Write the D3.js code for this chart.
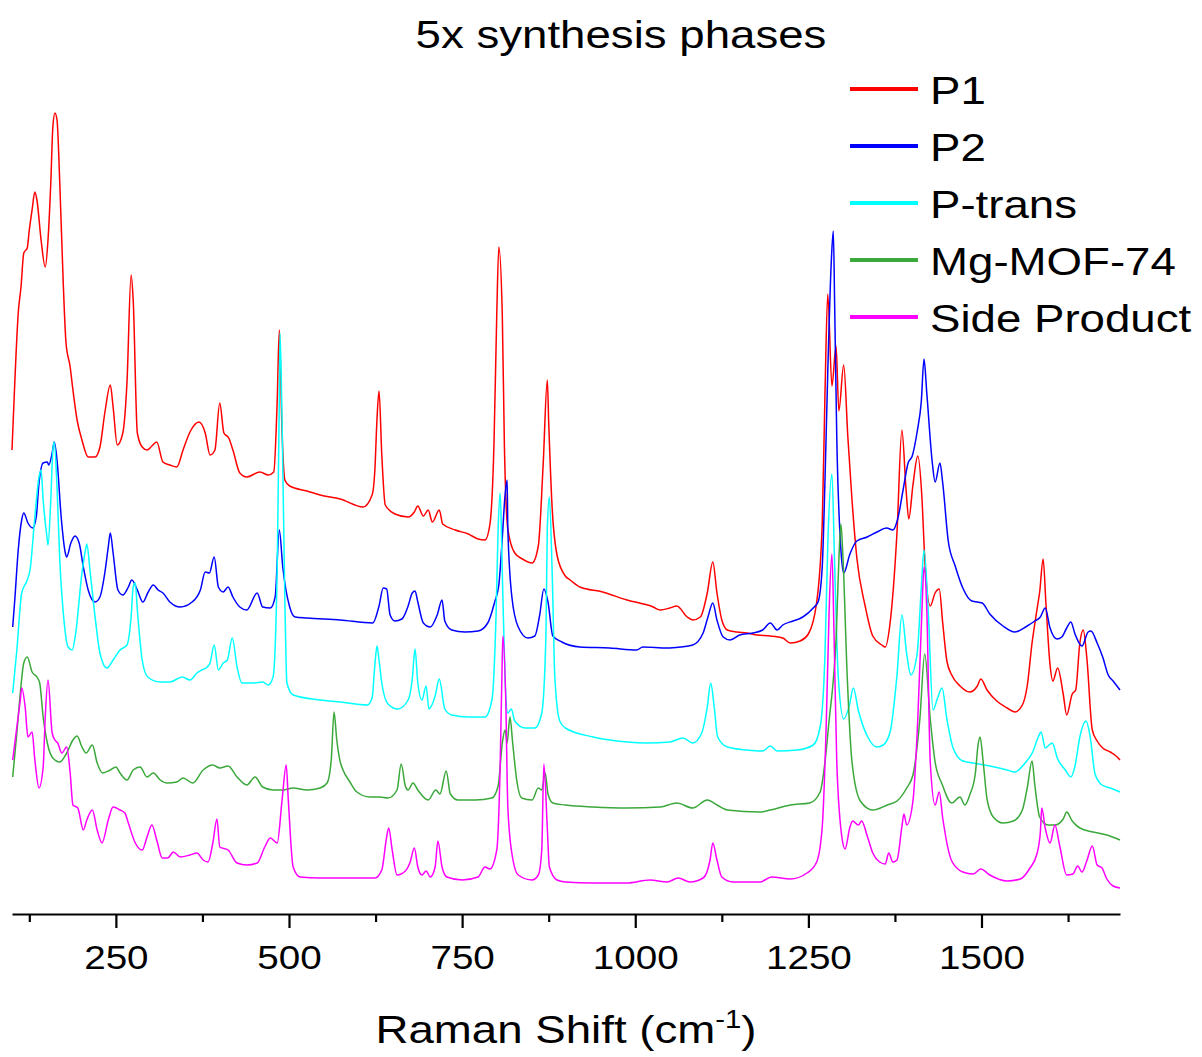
<!DOCTYPE html>
<html>
<head>
<meta charset="utf-8">
<script src="https://cdn.jsdelivr.net/npm/d3@7"></script>
<style>
  html, body { margin: 0; padding: 0; background: #fff; }
  svg { display: block; font-family: "Liberation Sans", Arial, sans-serif; }
</style>
</head>
<body>
<svg id="chart" width="1202" height="1057"></svg>
<script>
// Raman spectra, [wavenumber (cm-1), intensity (a.u., stacked offsets included)]
const p1 = [[100,470],[104,537],[109,607],[113,633],[117,667],[122,672],[125,690],[129,710],[133,728],[136,720],[142,680],[148,653],[152,680],[156,737],[159,793],[162,807],[165,800],[169,737],[174,637],[178,577],[184,553],[188,530],[194,500],[201,480],[210,463],[220,463],[227,473],[234,507],[242,535],[246,513],[252,475],[260,487],[266,537],[272,645],[275,620],[281,487],[288,473],[295,470],[302,474],[309,478],[318,458],[328,455],[338,453],[347,470],[357,488],[370,498],[379,487],[386,465],[393,470],[400,517],[406,487],[413,482],[419,470],[429,447],[439,443],[458,448],[470,445],[478,448],[483,520],[486,590],[490,487],[494,440],[501,434],[526,429],[545,425],[574,421],[607,413],[620,425],[624,450],[627,500],[630,529],[634,465],[639,415],[653,406],[672,403],[681,408],[686,414],[694,404],[701,410],[707,398],[717,410],[722,396],[740,390],[759,386],[773,381],[783,380],[790,395],[796,476],[800,605],[803,673],[808,605],[811,476],[816,391],[826,367],[837,361],[851,357],[860,374],[867,455],[873,540],[875,498],[880,412],[887,365],[899,344],[906,340],[920,333],[953,328],[988,320],[1026,313],[1036,310],[1050,312],[1060,314],[1075,303],[1083,300],[1094,303],[1104,327],[1112,358],[1118,327],[1125,300],[1133,290],[1147,288],[1161,287],[1176,285],[1195,284],[1213,282],[1224,277],[1238,279],[1250,286],[1262,318],[1270,396],[1274,527],[1278,626],[1284,534],[1290,574],[1294,509],[1301,555],[1307,483],[1313,420],[1320,362],[1332,314],[1343,284],[1356,275],[1361,273],[1368,297],[1378,388],[1385,490],[1391,431],[1395,401],[1401,435],[1408,464],[1414,422],[1418,362],[1426,314],[1433,327],[1439,331],[1444,297],[1450,259],[1457,245],[1469,234],[1483,228],[1494,234],[1499,241],[1508,230],[1522,219],[1537,212],[1548,208],[1559,215],[1566,234],[1573,277],[1580,310],[1584,328],[1589,361],[1593,317],[1599,255],[1603,239],[1610,252],[1618,226],[1623,205],[1631,226],[1636,230],[1642,277],[1647,290],[1652,263],[1660,190],[1667,179],[1675,172],[1686,168],[1696,163],[1700,160]];

const p2 = [[101,293],[104,320],[109,370],[114,400],[117,407],[123,397],[130,392],[135,403],[139,437],[145,457],[151,458],[153,455],[158,467],[161,478],[165,460],[171,403],[177,367],[179,363],[185,377],[191,384],[197,377],[203,353],[210,330],[220,318],[227,323],[234,347],[239,373],[242,387],[246,367],[253,330],[260,325],[268,333],[273,340],[281,330],[289,318],[296,327],[304,335],[311,330],[318,327],[328,318],[343,313],[360,318],[372,330],[379,348],[385,347],[392,363],[398,333],[405,328],[412,333],[419,323],[429,313],[439,310],[454,327],[462,313],[473,312],[480,323],[486,390],[491,353],[501,313],[509,303],[526,302],[574,300],[621,297],[630,314],[636,332],[641,331],[646,305],[653,299],[663,301],[672,314],[678,327],[682,329],[686,318],[694,297],[704,293],[714,305],[721,320],[725,299],[735,290],[754,288],[773,289],[787,297],[797,318],[803,335],[808,382],[812,425],[815,440],[816,391],[822,322],[831,293],[845,282],[855,284],[862,305],[868,331],[874,318],[881,284],[894,278],[920,273],[963,272],[1002,270],[1011,273],[1046,272],[1065,273],[1083,275],[1098,287],[1105,303],[1112,317],[1118,300],[1127,283],[1137,280],[1151,285],[1170,287],[1184,290],[1195,297],[1205,290],[1213,295],[1228,299],[1242,303],[1257,312],[1264,318],[1270,353],[1274,440],[1278,548],[1283,657],[1286,689],[1288,613],[1291,483],[1297,370],[1301,347],[1310,366],[1320,379],[1335,383],[1349,388],[1363,392],[1372,390],[1379,401],[1387,431],[1394,457],[1400,464],[1407,488],[1413,518],[1417,561],[1421,527],[1429,457],[1433,438],[1440,457],[1444,437],[1452,379],[1462,354],[1473,332],[1486,319],[1501,317],[1512,306],[1531,294],[1548,288],[1566,294],[1577,299],[1585,303],[1592,312],[1599,292],[1609,281],[1616,283],[1623,292],[1629,298],[1635,286],[1645,274],[1654,288],[1658,289],[1667,277],[1675,263],[1683,245],[1690,239],[1700,230]];

const pTrans = [[101,227],[107,270],[114,327],[122,340],[126,350],[133,403],[139,443],[142,450],[145,420],[151,380],[152,375],[156,420],[159,470],[161,478],[165,433],[169,360],[175,300],[181,273],[187,270],[192,287],[201,347],[207,373],[208,376],[213,347],[220,303],[227,267],[237,252],[246,260],[256,270],[266,275],[272,303],[275,333],[278,337],[281,310],[288,260],[296,243],[314,238],[328,238],[346,243],[357,240],[367,247],[374,250],[382,253],[386,257],[392,275],[398,250],[405,257],[411,260],[418,282],[425,253],[432,237],[448,237],[462,238],[470,235],[477,243],[483,353],[486,520],[487,587],[490,500],[494,320],[497,237],[506,225],[545,220],[574,218],[613,215],[620,222],[624,255],[627,274],[630,260],[634,237],[643,216],[657,211],[672,220],[678,241],[682,271],[686,237],[692,220],[698,234],[702,211],[711,224],[717,241],[725,211],[735,205],[759,203],[783,203],[793,220],[799,305],[802,391],[805,427],[808,348],[812,241],[816,207],[821,211],[826,199],[841,192],[855,192],[865,207],[871,284],[873,391],[876,423],[880,348],[884,241],[891,199],[899,192],[939,183],[988,178],[1017,177],[1050,178],[1069,182],[1083,177],[1096,187],[1104,213],[1109,237],[1114,213],[1119,183],[1133,173],[1161,170],[1184,169],[1195,174],[1205,169],[1234,170],[1257,175],[1267,193],[1274,266],[1278,375],[1284,446],[1288,353],[1293,245],[1301,201],[1309,214],[1315,232],[1322,210],[1335,184],[1349,173],[1358,175],[1368,188],[1378,245],[1385,305],[1392,266],[1398,245],[1407,266],[1413,331],[1417,370],[1423,310],[1430,210],[1437,223],[1443,232],[1450,201],[1459,172],[1473,159],[1488,157],[1512,154],[1537,150],[1548,148],[1563,157],[1574,168],[1582,183],[1586,188],[1592,172],[1596,174],[1602,177],[1610,161],[1621,150],[1629,143],[1635,154],[1642,183],[1651,199],[1657,183],[1664,146],[1674,135],[1686,132],[1700,128]];

const mgMof74 = [[101,143],[107,187],[112,227],[117,257],[122,263],[129,248],[136,243],[140,237],[145,203],[151,177],[159,162],[169,158],[179,167],[188,180],[194,184],[201,173],[207,167],[216,175],[223,157],[231,147],[242,150],[250,153],[256,147],[266,140],[275,150],[285,153],[295,143],[304,147],[314,140],[324,137],[338,138],[347,142],[361,137],[376,150],[390,155],[400,152],[412,154],[425,143],[439,135],[451,143],[462,133],[477,130],[491,130],[506,132],[526,130],[545,132],[555,137],[561,160],[565,208],[569,180],[574,158],[578,150],[588,138],[598,128],[617,123],[631,123],[643,122],[656,130],[662,156],[668,134],[672,130],[679,137],[686,130],[701,120],[712,130],[718,126],[727,149],[733,126],[744,120],[769,120],[793,122],[802,134],[808,177],[812,190],[815,177],[819,203],[823,177],[829,139],[836,122],[851,120],[860,132],[865,130],[870,147],[874,126],[881,117],[899,115],[939,113],[988,112],[1036,113],[1060,117],[1083,112],[1104,120],[1118,115],[1133,110],[1180,108],[1195,110],[1224,115],[1252,117],[1267,128],[1274,158],[1280,200],[1286,240],[1290,280],[1294,360],[1297,396],[1300,362],[1306,245],[1313,158],[1325,119],[1343,110],[1364,115],[1378,119],[1392,132],[1401,145],[1411,201],[1418,266],[1426,201],[1433,158],[1443,136],[1457,117],[1469,123],[1476,115],[1483,125],[1491,146],[1495,175],[1498,183],[1502,161],[1508,121],[1517,103],[1531,97],[1546,99],[1559,110],[1566,132],[1573,159],[1577,135],[1584,103],[1596,95],[1606,95],[1618,101],[1623,108],[1631,99],[1642,92],[1661,88],[1681,85],[1700,80]];

const sideProduct = [[101,160],[107,193],[112,220],[114,232],[119,213],[123,183],[129,188],[133,160],[139,132],[145,153],[148,203],[152,240],[158,187],[162,180],[166,177],[172,167],[179,173],[184,147],[188,115],[195,112],[203,90],[208,100],[216,110],[223,90],[230,77],[239,100],[246,113],[256,110],[263,107],[268,97],[278,77],[288,70],[295,83],[302,95],[309,80],[317,62],[325,62],[333,68],[343,63],[357,65],[367,67],[376,60],[383,58],[390,77],[396,101],[400,73],[412,70],[425,57],[439,55],[454,57],[465,73],[473,82],[483,77],[490,120],[496,155],[499,120],[506,53],[516,43],[545,42],[624,42],[634,50],[641,83],[644,92],[649,70],[656,45],[668,49],[675,58],[681,72],[686,53],[692,45],[698,49],[704,43],[711,53],[715,79],[721,53],[728,43],[750,40],[773,43],[783,53],[790,51],[800,70],[805,156],[808,263],[809,284],[813,220],[816,113],[822,66],[831,45],[851,40],[860,45],[865,70],[868,156],[873,92],[876,53],[887,40],[899,38],[939,37],[988,37],[1021,40],[1046,38],[1062,42],[1079,38],[1098,42],[1108,60],[1112,77],[1118,60],[1125,43],[1141,38],[1180,38],[1197,43],[1224,41],[1248,47],[1262,58],[1270,93],[1276,201],[1280,310],[1284,366],[1287,288],[1291,158],[1299,80],[1303,71],[1310,93],[1314,99],[1322,95],[1327,99],[1335,84],[1343,67],[1353,58],[1361,56],[1366,67],[1372,58],[1378,60],[1385,93],[1388,106],[1392,95],[1401,119],[1408,201],[1414,310],[1417,353],[1421,310],[1426,158],[1433,115],[1439,128],[1444,102],[1457,59],[1473,48],[1488,46],[1499,51],[1512,45],[1537,39],[1556,41],[1570,52],[1580,66],[1585,88],[1587,112],[1592,92],[1599,77],[1606,95],[1613,74],[1623,45],[1632,46],[1639,54],[1645,48],[1652,59],[1660,74],[1667,55],[1674,52],[1681,41],[1690,34],[1700,32]];

const seriesNames = ["P1", "P2", "P-trans", "Mg-MOF-74", "Side Product"];
const seriesData = [p1, p2, pTrans, mgMof74, sideProduct];
const majorTicks = [250, 500, 750, 1000, 1250, 1500];
const minorTicks = [125, 375, 625, 875, 1125, 1375, 1625];
const chartTitle = "5x synthesis phases";

// ---- styling / layout ----
const colors = ["#ff0000", "#0000ff", "#00ffff", "#3aa83a", "#ff00ff"];
const stretch = 1.17;            // horizontal glyph stretch of all labels
const axisY = 914;

const svg = d3.select("#chart");

const x = d3.scaleLinear().domain([100, 1700]).range([12, 1120]);
const y = d3.scaleLinear().domain([0, 830]).range([920, 90]);

// spectra
const line = d3.line()
  .x(d => x(d[0]))
  .y(d => y(d[1]))
  .curve(d3.curveMonotoneX);

svg.append("g").attr("class", "spectra")
  .selectAll("path")
  .data(seriesData)
  .join("path")
  .attr("d", line)
  .attr("fill", "none")
  .attr("stroke", (d, i) => colors[i])
  .attr("stroke-width", 1.5)
  .attr("stroke-linejoin", "round");

// x axis: major ticks with labels, minor ticks without
const axisMajor = d3.axisBottom(x)
  .tickValues(majorTicks)
  .tickSize(14)
  .tickSizeOuter(0)
  .tickPadding(18)
  .tickFormat(d3.format("d"));

const gAxis = svg.append("g")
  .attr("transform", `translate(0,${axisY})`)
  .call(axisMajor);

gAxis.select(".domain").attr("stroke", "#000").attr("stroke-width", 2.2);
gAxis.selectAll(".tick line").attr("stroke", "#000").attr("stroke-width", 2.2);
gAxis.selectAll(".tick text")
  .attr("fill", "#000")
  .attr("font-size", 33)
  .attr("font-family", '"Liberation Sans", Arial, sans-serif')
  .attr("transform", `scale(${stretch},1)`);

const gMinor = svg.append("g")
  .attr("transform", `translate(0,${axisY})`)
  .call(d3.axisBottom(x).tickValues(minorTicks).tickSize(8).tickFormat(""));
gMinor.select(".domain").remove();
gMinor.selectAll(".tick line").attr("stroke", "#000").attr("stroke-width", 2.2);

// title
svg.append("text")
  .attr("transform", `translate(621,48) scale(${stretch},1)`)
  .attr("text-anchor", "middle")
  .attr("font-size", 39)
  .attr("fill", "#000")
  .text(chartTitle);

// x-axis title with superscript
const xt = svg.append("text")
  .attr("transform", `translate(566,1043) scale(${stretch},1)`)
  .attr("text-anchor", "middle")
  .attr("font-size", 39)
  .attr("fill", "#000");
xt.append("tspan").text("Raman Shift (cm");
xt.append("tspan").attr("font-size", 25).attr("dy", -15).text("-1");
xt.append("tspan").attr("dy", 15).text(")");

// legend
const legend = svg.append("g").attr("class", "legend");
const rows = legend.selectAll("g")
  .data(seriesNames)
  .join("g")
  .attr("transform", (d, i) => `translate(850,${89 + i * 57})`);
rows.append("line")
  .attr("x1", 0).attr("x2", 68).attr("y1", 0).attr("y2", 0)
  .attr("stroke", (d, i) => colors[i])
  .attr("stroke-width", 4);
rows.append("text")
  .attr("transform", `translate(80,15) scale(${stretch},1)`)
  .attr("font-size", 39)
  .attr("fill", "#000")
  .text(d => d);
</script>
</body>
</html>
